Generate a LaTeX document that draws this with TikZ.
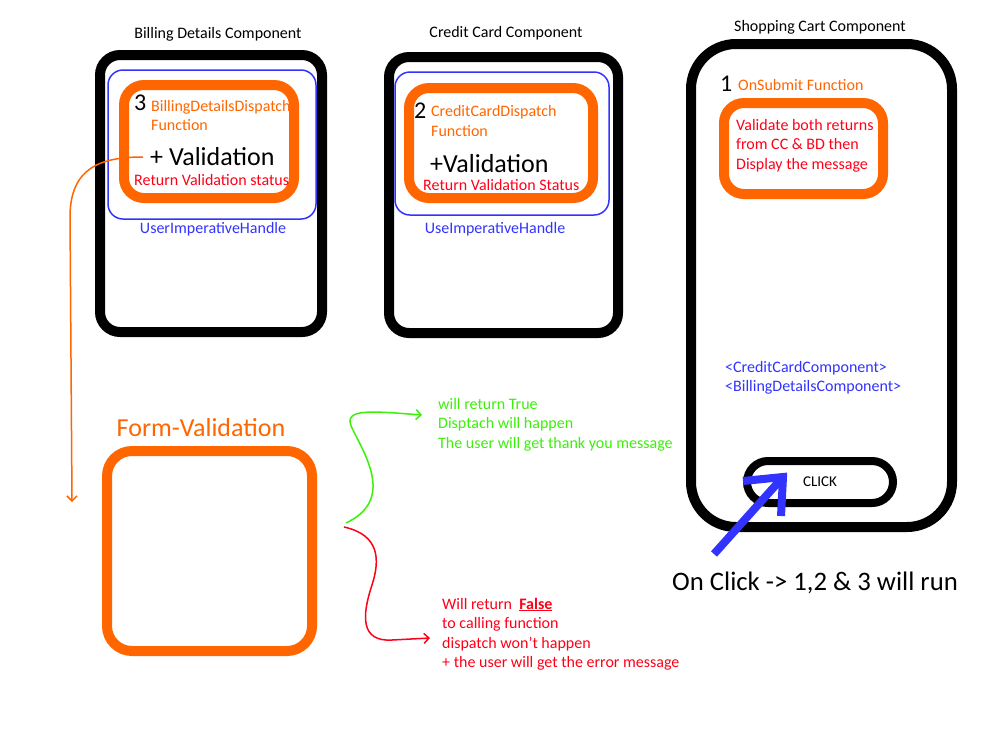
\documentclass[tikz,border=0pt]{standalone}
\usepackage{fontspec}
\setmainfont{Carlito}
\usetikzlibrary{arrows.meta}
\definecolor{cOrange}{RGB}{255,102,0}
\definecolor{cBlue}{RGB}{51,51,255}
\definecolor{cRed}{RGB}{255,0,25}
\definecolor{cGreen}{RGB}{60,240,10}
\begin{document}
\begin{tikzpicture}[x=1pt,y=-1pt,
  blackbox/.style={draw=black, line width=10pt, rounded corners=20pt, inner sep=0pt},
  bluebox/.style={draw=cBlue, line width=1.5pt, rounded corners=15pt, inner sep=0pt},
  orangebox/.style={draw=cOrange, line width=10pt, rounded corners=20pt, inner sep=0pt},
  lbl/.style={inner sep=0pt, anchor=west, font=\fontsize{16}{19.5}\selectfont, align=left},
  title/.style={inner sep=0pt, font=\fontsize{16}{19.5}\selectfont},
  big/.style={inner sep=0pt, anchor=west, font=\fontsize{26}{31}\selectfont},
  num/.style={inner sep=0pt, anchor=west, font=\fontsize{24}{28}\selectfont},
  thinline/.style={line width=1.5pt},
  barb/.style={-{Straight Barb[length=5pt,width=10pt]}}
]
\useasboundingbox[fill=white] (0,0) rectangle (1000,750);

% ---------- Billing Details Component ----------
\node[title] (bdt) at (218,34) {Billing Details Component};
\node[blackbox, minimum width=222pt, minimum height=277pt] (bd) at (211,193.5) {};
\node[bluebox, minimum width=208pt, minimum height=149pt] (bdh) at (212,144.5) {};
\node[orangebox, minimum width=170pt, minimum height=113pt] (bdf) at (209,141.5) {};
\node[num] (bdn) at (134,103) {3};
\node[lbl, text=cOrange] (bdfn) at (151,115.5) {BillingDetailsDispatch\\Function};
\node[big] (bdv) at (150,156.5) {+ Validation};
\node[lbl, text=cRed] (bdr) at (134,180) {Return Validation status};
\node[title, text=cBlue] (bdu) at (213,229) {UserImperativeHandle};

% ---------- Credit Card Component ----------
\node[title] (cct) at (506,33) {Credit Card Component};
\node[blackbox, minimum width=229pt, minimum height=276pt] (cc) at (503.5,195) {};
\node[bluebox, minimum width=214pt, minimum height=143pt] (cch) at (502,143.5) {};
\node[orangebox, minimum width=184pt, minimum height=110pt] (ccf) at (501,143) {};
\node[num] (ccn) at (414,111) {2};
\node[lbl, text=cOrange] (ccfn) at (431,121) {CreditCardDispatch\\Function};
\node[big] (ccv) at (430,163.5) {+Validation};
\node[lbl, text=cRed] (ccr) at (423,185) {Return Validation Status};
\node[title, text=cBlue] (ccu) at (495,229) {UseImperativeHandle};

% ---------- Shopping Cart Component ----------
\node[title] (sct) at (820,27) {Shopping Cart Component};
\node[blackbox, rounded corners=45pt, minimum width=261pt, minimum height=483pt] (sc) at (821.5,285.5) {};
\node[num] (scn) at (720,84) {1};
\node[lbl, text=cOrange] (scfn) at (738,85) {OnSubmit Function};
\node[orangebox, minimum width=159pt, minimum height=91pt] (scf) at (803.5,148.5) {};
\node[lbl, text=cRed] (scm) at (736,145.5) {Validate both returns\\from CC \& BD then\\Display the message};
\node[lbl, text=cBlue] (scc) at (725,378) {<CreditCardComponent>\\<BillingDetailsComponent>};
\node[draw=black, line width=8pt, rounded corners=21pt, minimum width=146pt, minimum height=42pt,
      inner sep=0pt, font=\fontsize{15}{18}\selectfont] (btn) at (820,482) {CLICK};

% blue arrow
\coordinate (ba) at (714,554);
\coordinate (btip) at (783,477);
\coordinate (barm1) at (743,481);
\coordinate (barm2) at (781,516);
\draw[cBlue, line width=8pt] (ba) -- (btip);
\draw[cBlue, line width=8pt, line join=miter] (barm1) -- (btip) -- (barm2);
\node[big, font=\fontsize{26.7}{31}\selectfont] (onclick) at (672,583) {On Click -> 1,2 \& 3 will run};

% ---------- Form-Validation ----------
\node[big, anchor=center, text=cOrange] (fvt) at (201,428) {Form-Validation};
\node[orangebox, rounded corners=25pt, minimum width=205pt, minimum height=200pt] (fv) at (209.5,551) {};

% orange connector
\coordinate (os) at (143,157);
\coordinate (oe) at (72,502);
\draw[cOrange, thinline, barb] (os) .. controls (100,157) and (71,168) .. (70,215) -- (oe);

% green outcome
\coordinate (gs) at (346,523);
\coordinate (ge) at (422,415);
\draw[cGreen, thinline, barb] (gs) .. controls (395,500) and (365,455) .. (352,428)
  .. controls (342,408) and (370,411) .. (ge);
\node[lbl, text=cGreen] (gt) at (438,424.5) {will return True\\Disptach will happen\\The user will get thank you message};

% red outcome
\coordinate (rs) at (344,527);
\coordinate (re) at (430,638);
\draw[cRed, thinline, barb] (rs) .. controls (380,535) and (380,560) .. (372,585)
  .. controls (362,615) and (360,642) .. (392,640) -- (re);
\node[lbl, text=cRed] (rt) at (442,634) {Will return\ \ \underline{\textbf{False}}\\to calling function\\dispatch won't happen\\+ the user will get the error message};
\end{tikzpicture}
\end{document}
